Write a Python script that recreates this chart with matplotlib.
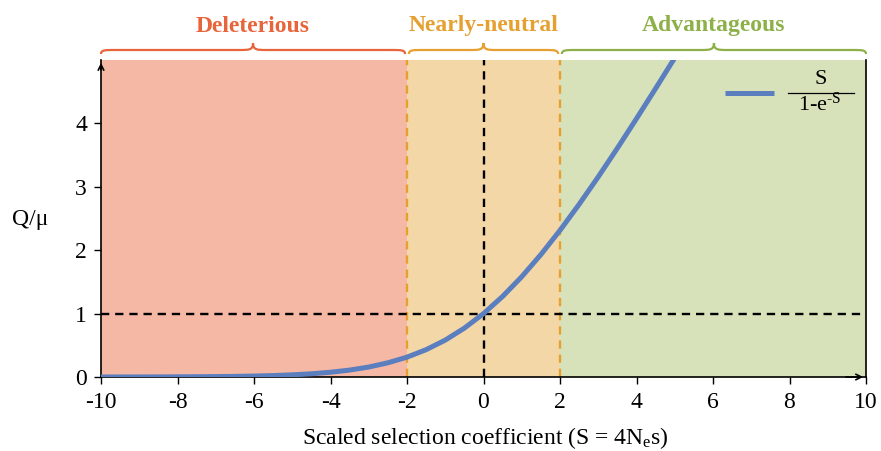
import matplotlib
matplotlib.use("Agg")
import matplotlib.pyplot as plt
from matplotlib.path import Path
from matplotlib.patches import PathPatch
from matplotlib.lines import Line2D
import matplotlib.transforms as mtransforms

plt.rcParams['font.family'] = ['Liberation Serif', 'DejaVu Serif']
plt.rcParams['mathtext.fontset'] = 'custom'
plt.rcParams['mathtext.rm'] = 'Liberation Serif'
plt.rcParams['mathtext.it'] = 'Liberation Serif'

# Data
S_values = [-10, -9.5, -9, -8.5, -8, -7.5, -7, -6.5, -6, -5.5, -5, -4.5, -4, -3.5, -3, -2.5,
            -2, -1.5, -1, -0.5, 0, 0.5, 1, 1.5, 2, 2.5, 3, 3.5, 4, 4.5, 5]
Q_values = [0.0005, 0.0007, 0.0011, 0.0017, 0.0027, 0.0042, 0.0064, 0.0098, 0.015, 0.023,
            0.034, 0.051, 0.075, 0.109, 0.157, 0.224, 0.313, 0.431, 0.582, 0.771, 1.0,
            1.271, 1.582, 1.931, 2.313, 2.724, 3.157, 3.609, 4.075, 4.551, 5.034]
region_names = ['Deleterious', 'Nearly-neutral', 'Advantageous']
region_bounds = [(-10, -2), (-2, 2), (2, 10)]
region_fill = ['#F5B8A5', '#F3D7A7', '#D7E2BA']
region_text = ['#E8643A', '#E6A030', '#8DB048']
x_ticks = [-10, -8, -6, -4, -2, 0, 2, 4, 6, 8, 10]
y_ticks = [0, 1, 2, 3, 4]

W, H = 881, 451
fig = plt.figure(figsize=(W/100, H/100), dpi=100)
ax = fig.add_axes([101/W, 1-377/H, (866-101)/W, (377-60)/H])
ax.set_xlim(-10, 10)
ax.set_ylim(0, 5)

for (a, b), c in zip(region_bounds, region_fill):
    ax.axvspan(a, b, color=c, lw=0, zorder=0)

dash = (0, (3.5, 2.5))
ax.axvline(-2, color='#E6A030', ls=dash, lw=1.7, zorder=1)
ax.axvline(2, color='#E6A030', ls=dash, lw=1.7, zorder=1)
ax.axvline(0, color='black', ls=dash, lw=1.7, zorder=1)
ax.axhline(1, color='black', ls=dash, lw=1.7, zorder=1)

curve_color = '#5A7EBE'
ax.plot(S_values, Q_values, color=curve_color, lw=3.6, zorder=3, solid_capstyle='butt')

ax.set_xticks(x_ticks)
ax.set_xticklabels([str(t) for t in x_ticks])
ax.set_yticks(y_ticks)
ax.tick_params(axis='both', direction='out', length=5, width=1, labelsize=17)
ax.tick_params(axis='x', pad=6)
ax.tick_params(axis='y', pad=5)
ax.spines['top'].set_visible(False)
for s in ['left', 'bottom', 'right']:
    ax.spines[s].set_linewidth(1.2)

# axis arrows
ax.annotate('', xy=(0, 1.0), xytext=(0, 0.96), xycoords='axes fraction',
            arrowprops=dict(arrowstyle='->', lw=1.2, color='black'), annotation_clip=False)
ax.annotate('', xy=(1.0, 0), xytext=(0.97, 0), xycoords='axes fraction',
            arrowprops=dict(arrowstyle='->', lw=1.2, color='black'), annotation_clip=False)

def px(x, y):
    return ((x-101)/765, (377-y)/317)

ax.set_xlabel(r'Scaled selection coefficient (S = 4N$_\mathrm{e}$s)', fontsize=17, va='baseline')
ax.xaxis.set_label_coords(*px(485, 444))
ax.set_ylabel(r'Q/μ', fontsize=17, rotation=0, va='center', ha='center')
ax.yaxis.set_label_coords(*px(30, 219))

# legend (handle + fraction label)
x0, y0 = px(725, 93)
x1, _ = px(774, 93)
ax.add_line(Line2D([x0, x1], [y0, y0], transform=ax.transAxes, color=curve_color,
                   lw=3.6, clip_on=False, solid_capstyle='butt'))
fx0, fy = px(788, 93)
fx1, _ = px(854, 93)
ax.add_line(Line2D([fx0, fx1], [fy, fy], transform=ax.transAxes, color='black', lw=0.9))
cx, cyn = px(821, 80)
ax.text(cx, cyn, 'S', transform=ax.transAxes, ha='center', va='center', fontsize=16)
dx, dy = px(820, 111)
ax.text(dx, dy, '1-e$^{\\mathrm{\u2010S}}$', transform=ax.transAxes, ha='center',
        va='baseline', fontsize=16)

# braces
trans = mtransforms.blended_transform_factory(ax.transData, ax.transAxes)
ph = 1/317.0
def brace(x0, x1, color):
    xm = (x0 + x1) / 2
    r = 0.35
    y0 = 1 + 6*ph
    ym = 1 + 10*ph
    yt = 1 + 17*ph
    verts = [(x0, y0),
             (x0, ym), (x0 + r*0.3, ym), (x0 + r, ym),
             (xm - r, ym),
             (xm - r*0.3, ym), (xm, ym), (xm, yt),
             (xm, ym), (xm + r*0.3, ym), (xm + r, ym),
             (x1 - r, ym),
             (x1 - r*0.3, ym), (x1, ym), (x1, y0)]
    codes = [Path.MOVETO,
             Path.CURVE4, Path.CURVE4, Path.CURVE4,
             Path.LINETO,
             Path.CURVE4, Path.CURVE4, Path.CURVE4,
             Path.CURVE4, Path.CURVE4, Path.CURVE4,
             Path.LINETO,
             Path.CURVE4, Path.CURVE4, Path.CURVE4]
    p = PathPatch(Path(verts, codes), fill=False, edgecolor=color, lw=1.6,
                  transform=trans, clip_on=False)
    ax.add_patch(p)

gaps = [(-10, -2.05), (-1.95, 1.95), (2.05, 10)]
for (a, b), name, c in zip(gaps, region_names, region_text):
    brace(a, b, c)
    ax.text((a + b) / 2, 1 + 34*ph, name, transform=trans, ha='center', va='center',
            fontsize=17, fontweight='bold', color=c)

fig.savefig('out.png', dpi=100)
